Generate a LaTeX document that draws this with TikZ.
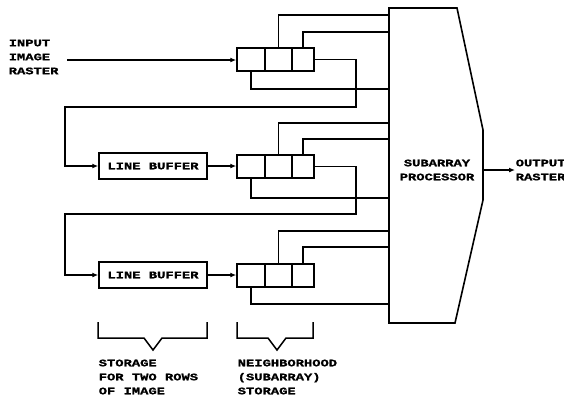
\documentclass[tikz,border=0pt]{standalone}
\usepackage{fontspec}
\newfontfamily\tw[FakeStretch=1.38, FakeBold=1.2]{Liberation Mono}
\usetikzlibrary{arrows.meta}
\begin{document}
\begin{tikzpicture}[x=1pt,y=-1pt,
  every path/.style={line width=1.5pt},
  lbl/.style={font=\tw\bfseries\fontsize{10}{14}\selectfont, inner sep=0pt, align=left},
  cell/.style={draw, line width=1.5pt, minimum height=23pt, inner sep=0pt},
  lbuf/.style={draw, line width=1.5pt, minimum width=108pt, minimum height=26pt, inner sep=0pt, font=\tw\bfseries\fontsize{10}{14}\selectfont},
  arr/.style={line width=1.5pt, -{Latex[length=6pt,width=5pt]}},
  wire/.style={line width=1.5pt}]
\useasboundingbox (0,0) rectangle (564,402);

% processor
\node[minimum width=94pt, minimum height=315pt, inner sep=0pt] (proc) at (436,165.5) {};
\draw[line width=1.6pt] (389,8) -- (457,8) -- (483,130) -- (483,200) -- (455,323) -- (389,323) -- cycle;
\node[lbl, align=center] (ptext) at (437,170) {SUBARRAY\\PROCESSOR};
\coordinate (pout) at (483,170);
\node[lbl, anchor=west] (out) at (515,170) {OUTPUT\\RASTER};
\draw[arr] (pout) -- (out.west);

% registers
\foreach \r/\yc in {1/59.5, 2/166.5, 3/275.5} {
  \node[cell, minimum width=28pt] (r\r a) at (251,\yc) {};
  \node[cell, minimum width=27pt] (r\r b) at (278.5,\yc) {};
  \node[cell, minimum width=22pt] (r\r c) at (303,\yc) {};
}

% input
\node[lbl, anchor=west] (in) at (8,57) {INPUT\\IMAGE\\RASTER};
\coordinate (inS) at (67,60);
\draw[arr] (inS) -- (r1a.west |- inS);

% line buffers
\node[lbuf] (lb1) at (153,166) {LINE BUFFER};
\node[lbuf] (lb2) at (153,275) {LINE BUFFER};
\draw[arr] (lb1.east) -- (r2a.west |- lb1.east);
\draw[arr] (lb2.east) -- (r3a.west |- lb2.east);

% loops
\draw[arr] (r1c.east) -| (356,107) -| (65,166) -- (lb1.west);
\draw[arr] (r2c.east) -| (356,214) -| (65,275) -- (lb2.west);

% connections into processor
\draw[wire] (r1b.north) |- (proc.west |- 0,15);
\draw[wire] (r1c.north) |- (proc.west |- 0,32);
\draw[wire] (r1a.south) |- (proc.west |- 0,89);
\draw[wire] (r2b.north) |- (proc.west |- 0,123);
\draw[wire] (r2c.north) |- (proc.west |- 0,139);
\draw[wire] (r2a.south) |- (proc.west |- 0,198);
\draw[wire] (r3b.north) |- (proc.west |- 0,231);
\draw[wire] (r3c.north) |- (proc.west |- 0,247);
\draw[wire] (r3a.south) |- (proc.west |- 0,304);

% braces
\draw[wire] (98,322) -- (98,338) -- (144,338) -- (153,350) -- (162,338) -- (207,338) -- (207,322);
\draw[wire] (237,322) -- (237,338) -- (268,338) -- (277,350) -- (286,338) -- (313,338) -- (313,322);
\node[lbl, anchor=west] (s1) at (98,377) {STORAGE\\FOR TWO ROWS\\OF IMAGE};
\node[lbl, anchor=west] (s2) at (237,377) {NEIGHBORHOOD\\(SUBARRAY)\\STORAGE};
\end{tikzpicture}
\end{document}
